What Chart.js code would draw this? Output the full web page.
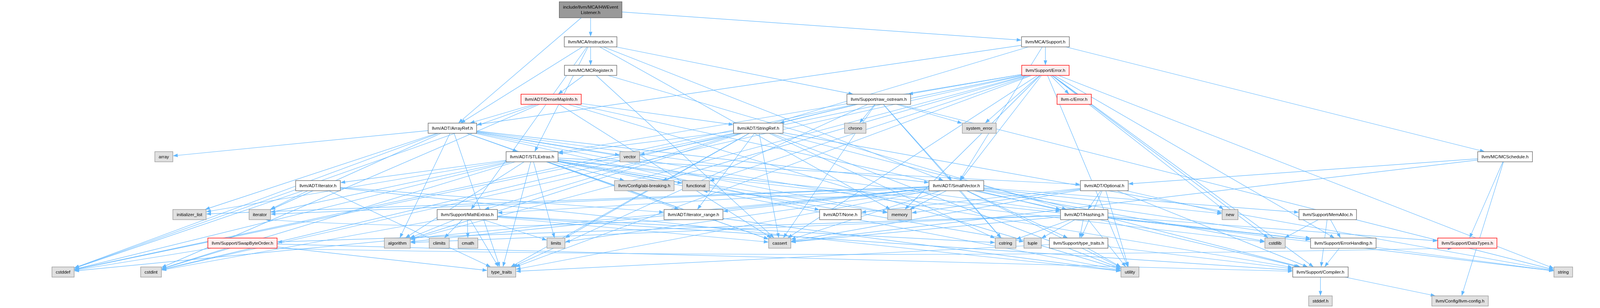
<!DOCTYPE html>
<html lang="en">
<head>
    <meta charset="UTF-8">
    <title>include/llvm/MCA/HWEventListener.h include graph</title>
    <script src="https://cdn.jsdelivr.net/npm/chart.js"></script>
    <style>
        html, body { margin: 0; padding: 0; background: #ffffff; width: 100%; height: 100%; overflow: hidden; }
        .chart-container { position: relative; width: 100vw; height: 100vh; }
    </style>
</head>
<body>

    <div class="chart-container">
        <canvas id="includeGraph"></canvas>
    </div>

    <script>
        // Headers in the graph, with their centres (4619 x 788 image)
        const nodeIds = [
            'root', 'instr', 'support', 'mcreg', 'error', 'densemap', 'rawos', 'cerror',
            'arrayref', 'stringref', 'chrono', 'syserr', 'array', 'stlextras', 'vector', 'mcsched',
            'iteratorh', 'abi', 'functional', 'smallvec', 'optional', 'initlist', 'iterator', 'mathext',
            'iterrange', 'none', 'memory', 'hashing', 'new', 'memalloc', 'swap', 'algorithm',
            'climits', 'cmath', 'limits', 'cassert', 'cstring', 'tuple', 'typetraitsh', 'cstdlib',
            'errhandling', 'datatypes', 'cstddef', 'cstdint', 'type_traits', 'utility', 'compiler', 'string',
            'stddef', 'llvmconfig'
        ];
        const nodeLabels = [
            'include/llvm/MCA/HWEvent\nListener.h', 'llvm/MCA/Instruction.h', 'llvm/MCA/Support.h', 'llvm/MC/MCRegister.h',
            'llvm/Support/Error.h', 'llvm/ADT/DenseMapInfo.h', 'llvm/Support/raw_ostream.h', 'llvm-c/Error.h',
            'llvm/ADT/ArrayRef.h', 'llvm/ADT/StringRef.h', 'chrono', 'system_error', 'array', 'llvm/ADT/STLExtras.h',
            'vector', 'llvm/MC/MCSchedule.h', 'llvm/ADT/iterator.h', 'llvm/Config/abi-breaking.h', 'functional',
            'llvm/ADT/SmallVector.h', 'llvm/ADT/Optional.h', 'initializer_list', 'iterator', 'llvm/Support/MathExtras.h',
            'llvm/ADT/iterator_range.h', 'llvm/ADT/None.h', 'memory', 'llvm/ADT/Hashing.h', 'new', 'llvm/Support/MemAlloc.h',
            'llvm/Support/SwapByteOrder.h', 'algorithm', 'climits', 'cmath', 'limits', 'cassert', 'cstring', 'tuple',
            'llvm/Support/type_traits.h', 'cstdlib', 'llvm/Support/ErrorHandling.h', 'llvm/Support/DataTypes.h',
            'cstddef', 'cstdint', 'type_traits', 'utility', 'llvm/Support/Compiler.h', 'string', 'stddef.h',
            'llvm/Config/llvm-config.h'
        ];
        const nodeX = [
            1705, 1705, 3018, 1705, 3018, 1591, 2537, 3101,
            1306, 2189, 2469, 2827, 473, 1536, 1818, 4345,
            918, 1860, 2009, 2761, 3188, 547, 750, 1349,
            2002, 2426, 2597, 3130, 3551, 3833, 700, 1147,
            1268, 1351, 1605, 2251, 2903, 2981, 3114, 3681,
            3878, 4236, 182, 436, 1448, 3262, 3812, 4513,
            3812, 4215
        ];
        const nodeY = [
            25, 107, 107, 180, 180, 254, 254, 254,
            328, 328, 328, 328, 401, 401, 401, 401,
            475, 475, 475, 475, 475, 549, 549, 549,
            549, 549, 549, 549, 549, 549, 622, 622,
            622, 622, 622, 622, 622, 622, 622, 622,
            622, 622, 696, 696, 696, 696, 696, 696,
            770, 770
        ];
        // root = the file itself, doc = documented header, trunc = graph cut off below, sys = system header
        const nodeKind = [
            'root', 'doc', 'doc', 'doc', 'trunc', 'trunc', 'doc', 'trunc',
            'doc', 'doc', 'sys', 'sys', 'sys', 'doc', 'sys', 'doc',
            'doc', 'sys', 'sys', 'doc', 'doc', 'sys', 'sys', 'doc',
            'doc', 'doc', 'sys', 'doc', 'sys', 'doc', 'trunc', 'sys',
            'sys', 'sys', 'sys', 'sys', 'sys', 'sys', 'doc', 'sys',
            'doc', 'trunc', 'sys', 'sys', 'sys', 'sys', 'doc', 'sys',
            'sys', 'sys'
        ];

        // Who includes whom
        const includeLists = [
            ['root', ['arrayref', 'instr', 'support']],
            ['instr', ['arrayref', 'stlextras', 'smallvec', 'mcreg', 'mathext', 'rawos', 'memory']],
            ['support', ['arrayref', 'smallvec', 'mcsched', 'error', 'mathext']],
            ['mcreg', ['densemap', 'hashing', 'cassert']],
            ['error', ['cerror', 'stlextras', 'smallvec', 'abi', 'compiler', 'errhandling', 'rawos', 'algorithm',
                       'cassert', 'cstdint', 'cstdlib', 'functional', 'memory', 'new', 'string', 'syserr',
                       'type_traits', 'utility', 'vector']],
            ['densemap', ['arrayref', 'hashing', 'stringref', 'cassert', 'cstddef', 'cstdint', 'utility']],
            ['rawos', ['smallvec', 'stringref', 'cassert', 'chrono', 'cstddef', 'cstdint', 'cstring', 'string',
                       'syserr', 'type_traits']],
            ['arrayref', ['hashing', 'none', 'smallvec', 'stlextras', 'compiler', 'algorithm', 'array', 'cassert',
                          'cstddef', 'initlist', 'iterator', 'memory', 'type_traits', 'vector']],
            ['stringref', ['stlextras', 'iterrange', 'compiler', 'algorithm', 'cassert', 'cstddef', 'cstring',
                           'limits', 'string', 'type_traits', 'utility']],
            ['stlextras', ['optional', 'iteratorh', 'iterrange', 'abi', 'errhandling', 'algorithm', 'cassert',
                           'cstddef', 'cstdint', 'cstdlib', 'functional', 'initlist', 'iterator', 'limits',
                           'memory', 'tuple', 'type_traits', 'utility']],
            ['mcsched', ['optional', 'llvmconfig', 'datatypes', 'cassert']],
            ['iteratorh', ['iterrange', 'cstddef', 'iterator', 'type_traits', 'utility']],
            ['smallvec', ['iterrange', 'compiler', 'errhandling', 'mathext', 'memalloc', 'typetraitsh', 'algorithm',
                          'cassert', 'cstddef', 'cstdlib', 'cstring', 'functional', 'initlist', 'iterator',
                          'limits', 'memory', 'new', 'type_traits', 'utility']],
            ['optional', ['hashing', 'none', 'compiler', 'typetraitsh', 'cassert', 'memory', 'new', 'utility']],
            ['iterrange', ['iterator', 'utility']],
            ['mathext', ['compiler', 'algorithm', 'cassert', 'climits', 'cmath', 'cstdint', 'cstring', 'limits',
                         'type_traits']],
            ['hashing', ['datatypes', 'errhandling', 'swap', 'typetraitsh', 'algorithm', 'cassert', 'cstring',
                         'string', 'tuple', 'utility']],
            ['memalloc', ['compiler', 'errhandling', 'cstdlib']],
            ['swap', ['compiler', 'datatypes', 'cstddef', 'cstdint', 'type_traits']],
            ['typetraitsh', ['compiler', 'type_traits', 'utility']],
            ['errhandling', ['compiler', 'string']],
            ['compiler', ['llvmconfig', 'stddef']]
        ];

        const GRAPH_W = 4619, GRAPH_H = 788;
        const EDGE_COLOR = '#63b8ff';
        const FONT_FAMILY = '"Liberation Sans", Arial, Helvetica, sans-serif';
        const kindStyle = {
            root:  { fill: '#999999', stroke: '#666666' },
            doc:   { fill: '#ffffff', stroke: '#666666' },
            trunc: { fill: '#fff0f0', stroke: '#ff0000' },
            sys:   { fill: '#e0e0e0', stroke: '#999999' }
        };

        const nodeIndex = {};
        nodeIds.forEach((id, i) => { nodeIndex[id] = i; });

        const edgeList = [];
        includeLists.forEach(([src, targets]) => {
            targets.forEach(t => edgeList.push([nodeIndex[src], nodeIndex[t]]));
        });

        // Box size of each header (in graph units), from its label width
        const measureCtx = document.createElement('canvas').getContext('2d');
        measureCtx.font = '13px ' + FONT_FAMILY;
        const nodeBoxes = nodeLabels.map(label => {
            const lines = label.split('\n');
            const textW = Math.max(...lines.map(l => measureCtx.measureText(l).width));
            return { lines, w: Math.round(textW + 22), h: lines.length > 1 ? 41 : 26 };
        });

        // Where the line from the box centre towards (dx, dy) leaves the box
        function boxExit(cx, cy, hw, hh, dx, dy) {
            const tx = dx !== 0 ? hw / Math.abs(dx) : Infinity;
            const ty = dy !== 0 ? hh / Math.abs(dy) : Infinity;
            const t = Math.min(tx, ty);
            return [cx + dx * t, cy + dy * t];
        }

        function arrowHead(ctx, tipX, tipY, ux, uy, k) {
            const len = 14 * k, half = 5 * k;
            const bx = tipX - ux * len, by = tipY - uy * len;
            ctx.beginPath();
            ctx.moveTo(tipX, tipY);
            ctx.lineTo(bx - uy * half, by + ux * half);
            ctx.lineTo(bx + uy * half, by - ux * half);
            ctx.closePath();
            ctx.fill();
            return [bx, by];
        }

        function graphScale(chart) {
            const { x, y } = chart.scales;
            const kx = (x.getPixelForValue(GRAPH_W) - x.getPixelForValue(0)) / GRAPH_W;
            const ky = (y.getPixelForValue(GRAPH_H) - y.getPixelForValue(0)) / GRAPH_H;
            return { kx, ky, k: Math.min(kx, ky) };
        }

        // Include arrows, drawn first
        const edgePlugin = {
            id: 'includeEdges',
            beforeDatasetsDraw(chart) {
                const { ctx, scales: { x, y } } = chart;
                const { kx, ky, k } = graphScale(chart);
                ctx.save();
                ctx.strokeStyle = EDGE_COLOR;
                ctx.fillStyle = EDGE_COLOR;
                ctx.lineWidth = 1.3 * k;
                edgeList.forEach(([s, t]) => {
                    const sx = x.getPixelForValue(nodeX[s]), sy = y.getPixelForValue(nodeY[s]);
                    const tx = x.getPixelForValue(nodeX[t]), ty = y.getPixelForValue(nodeY[t]);
                    const sw = nodeBoxes[s].w * kx / 2, sh = nodeBoxes[s].h * ky / 2;
                    const tw = nodeBoxes[t].w * kx / 2, th = nodeBoxes[t].h * ky / 2;
                    if (nodeY[s] === nodeY[t]) {
                        // same rank: loop underneath the row
                        const dir = tx > sx ? 1 : -1;
                        const p0 = [sx + dir * sw / 2, sy + sh];
                        const p2 = [tx - dir * tw / 2, ty + th];
                        const cp = [(p0[0] + p2[0]) / 2, sy + 45 * ky];
                        let ux = p2[0] - cp[0], uy = p2[1] - cp[1];
                        const n = Math.hypot(ux, uy);
                        ux /= n; uy /= n;
                        const base = arrowHead(ctx, p2[0], p2[1], ux, uy, k);
                        ctx.beginPath();
                        ctx.moveTo(p0[0], p0[1]);
                        ctx.quadraticCurveTo(cp[0], cp[1], base[0], base[1]);
                        ctx.stroke();
                        return;
                    }
                    let dx = tx - sx, dy = ty - sy;
                    const n = Math.hypot(dx, dy);
                    dx /= n; dy /= n;
                    const start = boxExit(sx, sy, sw, sh, dx, dy);
                    const end = boxExit(tx, ty, tw, th, -dx, -dy);
                    const base = arrowHead(ctx, end[0], end[1], dx, dy, k);
                    ctx.beginPath();
                    ctx.moveTo(start[0], start[1]);
                    ctx.lineTo(base[0], base[1]);
                    ctx.stroke();
                });
                ctx.restore();
            }
        };

        // Header boxes with their names, drawn on top of the arrows
        const boxPlugin = {
            id: 'headerBoxes',
            afterDatasetsDraw(chart) {
                const { ctx, scales: { x, y } } = chart;
                const { kx, ky, k } = graphScale(chart);
                ctx.save();
                ctx.font = (13 * k) + 'px ' + FONT_FAMILY;
                ctx.textAlign = 'center';
                ctx.textBaseline = 'middle';
                nodeBoxes.forEach((box, i) => {
                    const cx = x.getPixelForValue(nodeX[i]), cy = y.getPixelForValue(nodeY[i]);
                    const w = box.w * kx, h = box.h * ky;
                    const st = kindStyle[nodeKind[i]];
                    ctx.fillStyle = st.fill;
                    ctx.fillRect(cx - w / 2, cy - h / 2, w, h);
                    ctx.strokeStyle = st.stroke;
                    ctx.lineWidth = 1.5 * k;
                    ctx.strokeRect(cx - w / 2, cy - h / 2, w, h);
                    ctx.fillStyle = '#000000';
                    box.lines.forEach((l, j) => {
                        ctx.fillText(l, cx, cy + (1 + (j - (box.lines.length - 1) / 2) * 14.5) * ky);
                    });
                });
                ctx.restore();
            }
        };

        const ctx = document.getElementById('includeGraph').getContext('2d');
        const includeGraph = new Chart(ctx, {
            type: 'scatter',
            data: {
                datasets: [{
                    label: 'headers',
                    data: nodeIds.map((id, i) => ({ x: nodeX[i], y: nodeY[i] })),
                    pointRadius: 0,
                    pointHoverRadius: 0
                }]
            },
            options: {
                responsive: true,
                maintainAspectRatio: false,
                animation: false,
                events: [],
                layout: { padding: 0 },
                plugins: {
                    legend: { display: false },
                    tooltip: { enabled: false }
                },
                scales: {
                    x: { type: 'linear', min: 0, max: GRAPH_W, display: false },
                    y: { type: 'linear', min: 0, max: GRAPH_H, reverse: true, display: false }
                }
            },
            plugins: [edgePlugin, boxPlugin]
        });
    </script>

</body>
</html>
